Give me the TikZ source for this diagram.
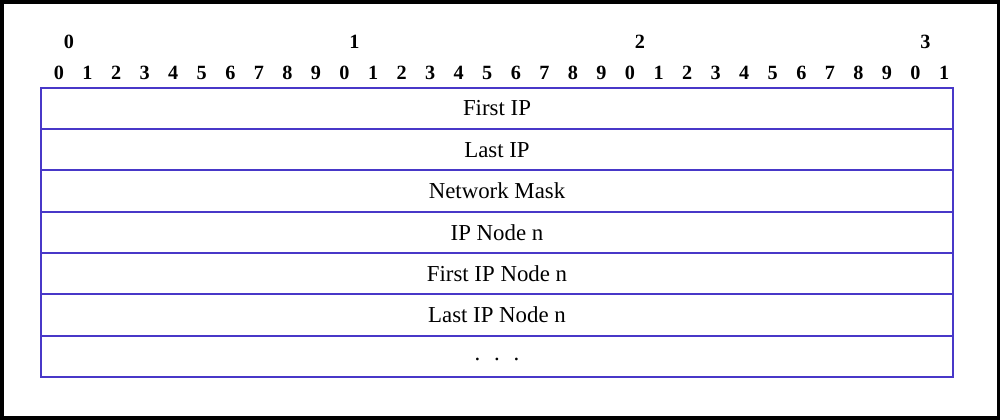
\documentclass[tikz,border=0pt]{standalone}
\usepackage{fontspec}
\setmainfont{Liberation Serif}
\usetikzlibrary{positioning}
\definecolor{fieldblue}{RGB}{72, 56, 200}

\begin{document}
\begin{tikzpicture}[
        field/.style={draw=fieldblue, line width=1.1pt, minimum width=18.24cm,
            minimum height=0.826cm, outer sep=0pt, inner sep=0pt,
            font=\fontsize{13}{15}\selectfont},
        bitnum/.style={font=\fontsize{11.5}{13}\selectfont\bfseries, inner sep=0pt}
    ]
    \useasboundingbox (0,0) rectangle (20,-8.4);
    \draw[line width=2pt] (0.035,-0.035) rectangle (19.965,-8.365);

    % bit numbers
    \foreach \i in {0,...,31} {
        \pgfmathtruncatemacro{\unit}{mod(\i,10)}
        \node[bitnum] (bit\i) at ({1.18+0.571*\i}, -1.46) {\unit};
    }
    \foreach \t in {0,1,2,3} {
        \node[bitnum] (ten\t) at ({1.38+5.71*\t}, -0.84) {\t};
    }

    % header fields
    \node[field] (firstip) at (9.94, -2.17) {First IP};
    \node[field, below=0pt of firstip] (lastip) {Last IP};
    \node[field, below=0pt of lastip] (mask) {Network Mask};
    \node[field, below=0pt of mask] (ipnode) {IP Node n};
    \node[field, below=0pt of ipnode] (firstnode) {First IP Node n};
    \node[field, below=0pt of firstnode] (lastnode) {Last IP Node n};
    \node[field, below=0pt of lastnode] (more) {\raisebox{-5pt}{.\hspace{0.6em}.\hspace{0.6em}.}};
\end{tikzpicture}
\end{document}
